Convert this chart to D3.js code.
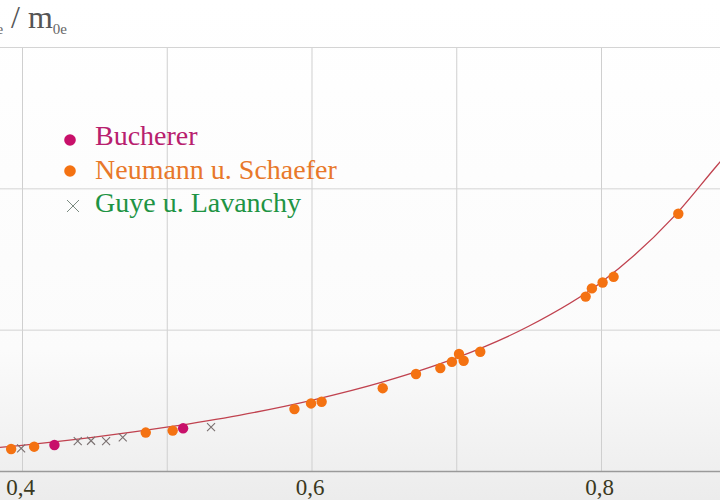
<!DOCTYPE html>
<html>
<head>
<meta charset="utf-8">
<script src="https://cdn.jsdelivr.net/npm/d3@7"></script>
<style>
  body { margin: 0; background: #fff; }
  svg { display: block; }
  text { font-family: "Liberation Serif", "Times New Roman", serif; }
</style>
</head>
<body>
<svg id="chart" width="720" height="500"></svg>
<script>
// measured values: v/c and m_e/m_0e
var buchererV = [0.4224, 0.5113];
var buchererM = [1.092, 1.151];

var neumannV = [0.3925, 0.4084, 0.4855, 0.5041, 0.5882, 0.5997, 0.6070, 0.6492,
                0.6722, 0.6890, 0.6970, 0.7019, 0.7051, 0.7166, 0.7894, 0.7937,
                0.8011, 0.8087, 0.8534];
var neumannM = [1.078, 1.086, 1.136, 1.143, 1.219, 1.239, 1.245, 1.293,
                1.343, 1.364, 1.386, 1.414, 1.390, 1.422, 1.617, 1.646,
                1.667, 1.687, 1.910];

var guyeV = [0.3994, 0.4385, 0.4477, 0.4581, 0.4696, 0.5306];
var guyeM = [1.080, 1.106, 1.107, 1.106, 1.119, 1.155];

// theory curve
var curveV = [0.37, 0.40, 0.45, 0.50, 0.55, 0.60, 0.65, 0.70, 0.75, 0.80, 0.85, 0.88, 0.90];
var curveM = [1.076, 1.091, 1.120, 1.155, 1.197, 1.250, 1.316, 1.400, 1.512, 1.667, 1.898, 2.080, 2.200];

var xTicks = [0.4, 0.6, 0.8];
var xGrid = [0.4, 0.5, 0.6, 0.7, 0.8];
var yGrid = [1.5, 2, 2.5];

var legendNames = ["Bucherer", "Neumann u. Schaefer", "Guye u. Lavanchy"];

var W = 720, H = 500;
var svg = d3.select("#chart");

var xScale = d3.scaleLinear().domain([0.4, 0.8]).range([22, 601]);
var yScale = d3.scaleLinear().domain([1, 2.5]).range([471, 47]);

// soft grey shading toward the bottom
var defs = svg.append("defs");
var grad = defs.append("linearGradient").attr("id", "bg")
    .attr("x1", 0).attr("y1", 0).attr("x2", 0).attr("y2", 1);
grad.append("stop").attr("offset", "0%").attr("stop-color", "#ffffff");
grad.append("stop").attr("offset", "70%").attr("stop-color", "#fbfbfb");
grad.append("stop").attr("offset", "100%").attr("stop-color", "#ececec");
svg.append("rect").attr("width", W).attr("height", H).attr("fill", "url(#bg)");

// vertical grid
var gx = svg.append("g")
    .attr("transform", "translate(0," + yScale(1) + ")")
    .call(d3.axisBottom(xScale).tickValues(xGrid).tickSize(-(yScale(1) - yScale(2.5))).tickFormat(""));
gx.select(".domain").remove();
gx.selectAll("line").attr("stroke", "#cfcfcf").attr("stroke-width", 1);

// horizontal grid
var gy = svg.append("g")
    .attr("transform", "translate(" + W + ",0)")
    .call(d3.axisLeft(yScale).tickValues(yGrid).tickSize(W).tickFormat(""));
gy.select(".domain").remove();
gy.selectAll("line").attr("stroke", "#d4d4d4").attr("stroke-width", 1);

// x axis line across the whole width
var ax = svg.append("g")
    .attr("transform", "translate(" + W + ",0)")
    .call(d3.axisLeft(yScale).tickValues([1]).tickSize(W).tickFormat(""));
ax.select(".domain").remove();
ax.selectAll("line").attr("stroke", "#9a9a9a").attr("stroke-width", 1.6);

// x tick labels
var xl = svg.append("g")
    .attr("transform", "translate(0," + yScale(1) + ")")
    .call(d3.axisBottom(xScale).tickValues(xTicks).tickSize(0).tickPadding(0)
        .tickFormat(function (d) { return d3.format(".1f")(d).replace(".", ","); }));
xl.select(".domain").remove();
xl.selectAll("text")
    .attr("y", 24).attr("dy", 0).attr("dx", -2)
    .attr("fill", "#3a3820")
    .style("font-family", "'Liberation Serif', serif")
    .style("font-size", "23px");

// y label (cut off on the left, as in the reference)
var yl = svg.append("text")
    .attr("x", 67).attr("y", 28)
    .attr("text-anchor", "end")
    .attr("fill", "#4a4520")
    .style("font-size", "32px");
yl.append("tspan").text("m");
yl.append("tspan").attr("dy", 6).style("font-size", "15px").attr("fill", "#666").text("e");
yl.append("tspan").attr("dy", -6).attr("fill", "#555").text(" / m");
yl.append("tspan").attr("dy", 6).style("font-size", "15px").attr("fill", "#666").text("0e");

// theory curve
var curveData = curveV.map(function (v, i) { return { v: v, m: curveM[i] }; });
var line = d3.line()
    .curve(d3.curveMonotoneX)
    .x(function (d) { return xScale(d.v); })
    .y(function (d) { return yScale(d.m); });
svg.append("path")
    .datum(curveData)
    .attr("d", line)
    .attr("fill", "none")
    .attr("stroke", "#c0424f")
    .attr("stroke-width", 1.3);

// points
function pairs(vs, ms) {
    return vs.map(function (v, i) { return { v: v, m: ms[i] }; });
}
var cross = "M-4,-4L4,4M-4,4L4,-4";

svg.append("g").selectAll("path")
    .data(pairs(guyeV, guyeM))
    .enter().append("path")
    .attr("transform", function (d) { return "translate(" + xScale(d.v) + "," + yScale(d.m) + ")"; })
    .attr("d", cross)
    .attr("stroke", "#7a7070")
    .attr("stroke-width", 1.1)
    .attr("fill", "none");

svg.append("g").selectAll("circle")
    .data(pairs(neumannV, neumannM))
    .enter().append("circle")
    .attr("cx", function (d) { return xScale(d.v); })
    .attr("cy", function (d) { return yScale(d.m); })
    .attr("r", 5.2)
    .attr("fill", "#f47212");

svg.append("g").selectAll("circle")
    .data(pairs(buchererV, buchererM))
    .enter().append("circle")
    .attr("cx", function (d) { return xScale(d.v); })
    .attr("cy", function (d) { return yScale(d.m); })
    .attr("r", 5.2)
    .attr("fill", "#c8106a");

// legend
var legendColors = ["#b8206e", "#e8782a", "#1e9444"];
var markColors = ["#c8106a", "#f47212", "#7a8a80"];
var legendY = [145, 179, 212];
var lg = svg.append("g");
legendNames.forEach(function (name, i) {
    if (i < 2) {
        lg.append("circle").attr("cx", 70).attr("cy", legendY[i] - 5 - (i === 0 ? 0 : 3))
            .attr("r", 5.8).attr("fill", markColors[i]);
    } else {
        lg.append("path")
            .attr("transform", "translate(73," + (legendY[i] - 6) + ")")
            .attr("d", "M-6,-6L6,6M-6,6L6,-6")
            .attr("stroke", markColors[i]).attr("stroke-width", 1).attr("fill", "none");
    }
    lg.append("text")
        .attr("x", 95).attr("y", legendY[i])
        .attr("fill", legendColors[i])
        .style("font-size", "28px")
        .text(name);
});
</script>
</body>
</html>
